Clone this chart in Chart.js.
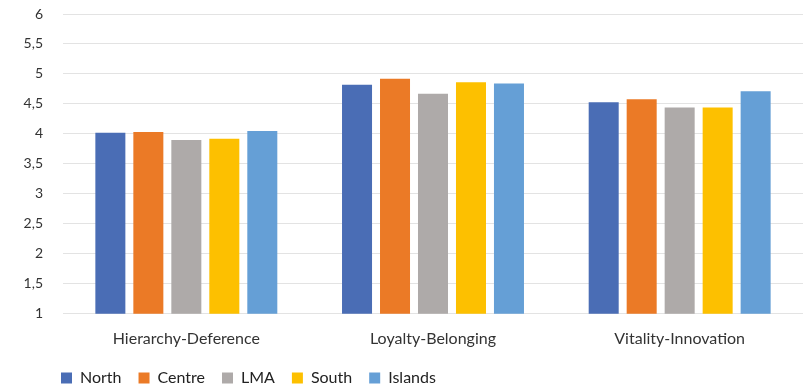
<!DOCTYPE html>
<html>
<head>
<meta charset="utf-8">
<script src="https://cdn.jsdelivr.net/npm/chart.js@4/dist/chart.umd.min.js"></script>
<style>
  html, body { margin: 0; padding: 0; background: #ffffff; }
  #wrap { width: 805px; height: 389px; position: relative; }
</style>
</head>
<body>
<div id="wrap"><canvas id="c"></canvas></div>
<script>
const categories = ['Hierarchy-Deference', 'Loyalty-Belonging', 'Vitality-Innovation'];
const north   = [4.02, 4.82, 4.53];
const centre  = [4.03, 4.92, 4.58];
const lma     = [3.90, 4.67, 4.44];
const south   = [3.92, 4.86, 4.44];
const islands = [4.05, 4.84, 4.71];
const yTicks  = ['1', '1,5', '2', '2,5', '3', '3,5', '4', '4,5', '5', '5,5', '6'];

const series = [
  { label: 'North',   data: north,   color: '#4a6db5' },
  { label: 'Centre',  data: centre,  color: '#eb7a26' },
  { label: 'LMA',     data: lma,     color: '#aeaaa9' },
  { label: 'South',   data: south,   color: '#fdc000' },
  { label: 'Islands', data: islands, color: '#659fd6' }
];

const FONT = 'Lato, "Open Sans", sans-serif';

// Pull the legend row slightly left so it starts under the first grid line.
const legendShift = {
  id: 'legendShift',
  afterLayout(chart) {
    const lg = chart.legend;
    if (lg) { lg.left -= 19; lg.right -= 19; }
  }
};

new Chart(document.getElementById('c'), {
  type: 'bar',
  data: {
    labels: categories,
    datasets: series.map(s => ({
      label: s.label,
      data: s.data,
      backgroundColor: s.color,
      borderWidth: 0,
      categoryPercentage: 0.77,
      barPercentage: 0.79
    }))
  },
  options: {
    responsive: true,
    maintainAspectRatio: false,
    animation: false,
    layout: { padding: { top: 14, right: 2, left: 3, bottom: -7 } },
    plugins: {
      tooltip: { enabled: false },
      legend: {
        position: 'bottom',
        align: 'start',
        fullSize: false,
        labels: {
          boxWidth: 11,
          boxHeight: 11,
          padding: 17,
          color: '#222',
          font: { family: FONT, size: 16 }
        }
      }
    },
    scales: {
      x: {
        grid: { display: false, drawTicks: false },
        border: { display: false },
        ticks: { color: '#333', font: { family: FONT, size: 16 }, padding: 15 },
        afterFit: (s) => { s.height -= 10; }
      },
      y: {
        min: 1,
        max: 6,
        grid: { color: '#e3e3e3', lineWidth: 1, drawTicks: true, tickLength: 20, tickColor: 'rgba(0,0,0,0)' },
        border: { display: false },
        ticks: {
          stepSize: 0.5,
          padding: 0,
          color: '#333',
          font: { family: FONT, size: 14 },
          callback: (v) => yTicks[Math.round((v - 1) * 2)]
        },
        afterFit: (s) => { s.width = 60; }
      }
    }
  },
  plugins: [legendShift]
});
</script>
</body>
</html>
